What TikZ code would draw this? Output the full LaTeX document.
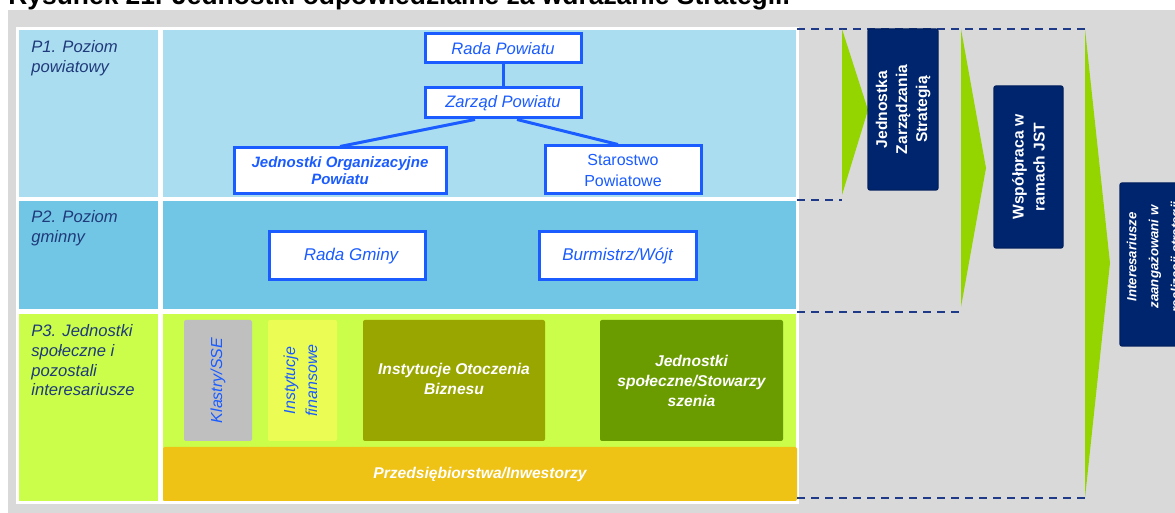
\documentclass[tikz,border=0pt]{standalone}
\usepackage{fontspec}
\setmainfont{Liberation Sans}
\usepackage{xcolor}
\usetikzlibrary{fit}

\definecolor{bgray}{HTML}{D9D9D9}
\definecolor{rowA}{HTML}{ABDDF1}
\definecolor{rowB}{HTML}{72C6E5}
\definecolor{rowC}{HTML}{CAFE4B}
\definecolor{blueln}{HTML}{1A5CFF}
\definecolor{labtxt}{HTML}{1F3A7A}
\definecolor{navy}{HTML}{00256F}
\definecolor{arrgreen}{HTML}{94D500}
\definecolor{dashblue}{HTML}{1F3A88}
\definecolor{klgray}{HTML}{BFBFBF}
\definecolor{finyel}{HTML}{EBFC55}
\definecolor{olive}{HTML}{99A600}
\definecolor{dkgreen}{HTML}{6A9C00}
\definecolor{amber}{HTML}{EFC216}

\begin{document}
\begin{tikzpicture}[x=0.5pt, y=-0.5pt,
    lvl/.style={anchor=north west, inner sep=0pt, align=left, text=labtxt,
        font=\fontsize{8.3}{9.9}\selectfont\itshape},
    orgbox/.style={draw=blueln, line width=1.5pt, fill=white, inner sep=0pt},
    orgtxt/.style={inner sep=0pt, align=center, text=blueln, font=\fontsize{8.3}{10.5}\selectfont\itshape},
    grpbox/.style={inner sep=0pt, rounded corners=1pt},
    grptxt/.style={inner sep=0pt, align=center, text=white,
        font=\fontsize{7.8}{10}\selectfont\bfseries\itshape},
    rottxt/.style={rotate=90, inner sep=0pt, align=center},
    navybox/.style={draw=navy!85!black, fill=navy, line width=0.6pt, rounded corners=1pt, inner sep=0pt},
    dashln/.style={draw=dashblue, line width=1pt, dash pattern=on 4pt off 3pt},
    orgln/.style={draw=blueln, line width=1.5pt}]
\clip (0,0) rectangle (1175,513);
\node[anchor=base west, inner sep=0pt, font=\fontsize{13.2}{15}\selectfont\bfseries] (title) at (8,4.5)
    {Rysunek 21. Jednostki odpowiedzialne za wdrażanie Strategii.};
\fill[bgray] (8,10) rectangle (1175,513);
\fill[white] (16,27) rectangle (799,504);

% rows
\fill[rowA] (19,30) rectangle (158,197);
\fill[rowA] (163,30) rectangle (796,197);
\fill[rowB] (19,201) rectangle (158,309);
\fill[rowB] (163,201) rectangle (796,309);
\fill[rowC] (19,314) rectangle (158,501);
\fill[rowC] (163,314) rectangle (796,501);
\node[lvl] (p1) at (31,40.5) {P1. Poziom\\powiatowy};
\node[lvl] (p2) at (31,210.5) {P2. Poziom\\gminny};
\node[lvl] (p3) at (31,324) {P3. Jednostki\\społeczne i\\pozostali\\interesariusze};

% P1
\node[orgbox, fit={(425,34) (581,63)}] (rada) {};
\node[orgtxt] (rada-t) at (rada) {Rada Powiatu};
\node[orgbox, fit={(425,88) (581,118)}] (zarzad) {};
\node[orgtxt] (zarzad-t) at (zarzad) {Zarząd Powiatu};
\node[orgbox, fit={(234,148) (446,194)}] (jop) {};
\node[orgtxt, font=\fontsize{7.5}{8.6}\selectfont\bfseries\itshape] (jop-t) at (jop)
    {Jednostki Organizacyjne\\Powiatu};
\node[orgbox, fit={(545,146) (701,194)}] (star) {};
\node[orgtxt, font=\fontsize{8}{10.5}\selectfont] (star-t) at (star) {Starostwo\\Powiatowe};
\draw[orgln] (rada) -- (zarzad);
\draw[orgln] ([xshift=-14pt]zarzad.south) -- (jop.north);
\draw[orgln] ([xshift=7pt]zarzad.south) -- ([xshift=-2.5pt]star.north);

% P2
\node[orgbox, fit={(269,232) (425,280)}] (gmina) {};
\node[orgtxt, font=\fontsize{8.5}{10.5}\selectfont\itshape] (gmina-t) at ([xshift=2pt]gmina) {Rada Gminy};
\node[orgbox, fit={(539,232) (696,280)}] (burm) {};
\node[orgtxt, font=\fontsize{8.5}{10.5}\selectfont\itshape] (burm-t) at (burm) {Burmistrz/Wójt};

% P3
\node[grpbox, fill=klgray, fit={(184,320) (252,441)}] (klastry) {};
\node[rottxt, text=blueln, font=\fontsize{8}{11}\selectfont\itshape] (klastry-t) at (klastry) {Klastry/SSE};
\node[grpbox, fill=finyel, fit={(268,320) (337,441)}] (finans) {};
\node[rottxt, text=blueln, font=\fontsize{8}{11}\selectfont\itshape] (finans-t) at ([xshift=-1pt]finans) {Instytucje\\finansowe};
\node[grpbox, fill=olive, fit={(363,320) (545,441)}] (ioz) {};
\node[grptxt] (ioz-t) at ([yshift=1pt]ioz) {Instytucje Otoczenia\\Biznesu};
\node[grpbox, fill=dkgreen, fit={(600,320) (783,441)}] (jsp) {};
\node[grptxt] (jsp-t) at (jsp) {Jednostki\\społeczne/Stowarzy\\szenia};
\node[grpbox, fill=amber, fit={(163,447) (797,501)}] (przed) {};
\node[grptxt] (przed-t) at (przed) {Przedsiębiorstwa/Inwestorzy};

% right side
\foreach \y/\xe in {29/1085, 200/842, 312/964, 498/1085} {
    \draw[dashln] (797,\y) -- (\xe,\y);
}
\foreach \xa/\xt/\yt/\yb in {842/868/110/195, 961/986/168/307, 1085/1110/263/498} {
    \fill[arrgreen] (\xa,29) -- (\xt,\yt) -- (\xa,\yb) -- cycle;
}
\node[navybox, fit={(868,29) (938,190)}] (jzs) {};
\node[rottxt, text=white, font=\fontsize{7.8}{10}\selectfont\bfseries] (jzs-t) at (jzs)
    {Jednostka\\Zarządzania\\Strategią};
\node[navybox, fit={(994,86) (1063,248)}] (wsp) {};
\node[rottxt, text=white, font=\fontsize{7.8}{10.5}\selectfont\bfseries] (wsp-t) at (wsp)
    {Współpraca w\\ramach JST};
\node[navybox, fit={(1120,183) (1196,346)}] (inter) {};
\node[rottxt, text=white, font=\fontsize{6.6}{11}\selectfont\bfseries\itshape] (inter-t) at (1155,257)
    {Interesariusze\\zaangażowani w\\realizacji strategii};
\end{tikzpicture}
\end{document}
